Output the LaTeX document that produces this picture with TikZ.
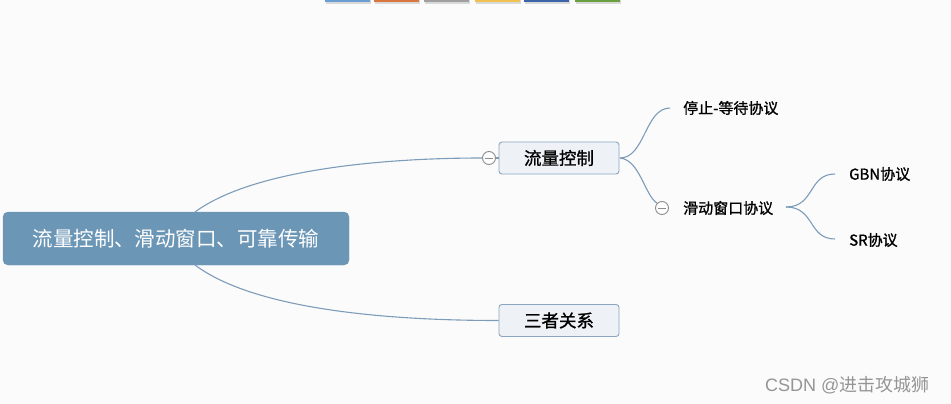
\documentclass[tikz,border=0pt]{standalone}
\usepackage{fontspec}
\setmainfont{Noto Sans CJK SC}
\newfontfamily\medfont[FakeBold=1.2]{Noto Sans CJK SC}
\newfontfamily\wmfont{Liberation Sans}
\definecolor{bg}{HTML}{FBFBFB}
\definecolor{rootfill}{HTML}{6C96B6}
\definecolor{boxfill}{HTML}{EEF2F6}
\definecolor{boxline}{HTML}{8AA6C0}
\definecolor{linkc}{HTML}{7D9CBA}
\definecolor{tabA}{HTML}{6A9FD4}
\definecolor{tabB}{HTML}{D9773F}
\definecolor{tabC}{HTML}{A0A0A0}
\definecolor{tabD}{HTML}{F0C050}
\definecolor{tabE}{HTML}{3C64A8}
\definecolor{tabF}{HTML}{6AA040}
\definecolor{wm}{HTML}{959595}
\tikzset{
  rootbox/.style={draw=rootfill, fill=rootfill, rounded corners=5pt, minimum width=346pt, minimum height=53pt, text=white, font=\fontsize{20.5}{24}\selectfont, inner sep=0pt},
  topicbox/.style={draw=boxline, fill=boxfill, rounded corners=3pt, line width=0.9pt, minimum width=120pt, minimum height=32pt, font=\medfont\fontsize{17.5}{20}\selectfont, inner sep=0pt},
  subtopic/.style={anchor=west, font=\medfont\fontsize{15}{18}\selectfont, inner sep=0pt},
  link/.style={draw=linkc, line width=1.1pt},
  collapse/.style={circle, draw=gray!90, fill=white, line width=0.9pt, minimum size=13pt, inner sep=0pt},
}
\begin{document}
\begin{tikzpicture}[x=1pt,y=-1pt]
\fill[bg] (0,0) rectangle (951,404);
\useasboundingbox (0,0) rectangle (951,404);
% top tabs
\foreach \x/\c in {325/tabA,374/tabB,424/tabC,475/tabD,524/tabE,575/tabF}{
  \fill[black!15] (\x+1,0) rectangle (\x+46,4);
  \fill[\c] (\x,0) rectangle (\x+45,2.5);
}
% nodes
\node[rootbox] (root) at (176,238.5) {流量控制、滑动窗口、可靠传输};
\node[topicbox] (flow) at (559,158) {流量控制};
\node[topicbox] (three) at (559,320.5) {三者关系};
\node[collapse] (c1) at (489,158) {};
\node[subtopic] (stop) at (683,108) {停止-等待协议};
\node[collapse] (c2) at (662,208) {};
\node[subtopic] (slide) at (683,208) {滑动窗口协议};
\node[subtopic] (gbn) at (849,174) {GBN协议};
\node[subtopic] (sr) at (849,240) {SR协议};
\coordinate (rt) at (195,212);
\coordinate (rb) at (195,265);
\coordinate (fr) at (620,158);
\coordinate (se) at (786,207);
\coordinate (st) at (670,108);
\coordinate (gt) at (835,174);
\coordinate (sb) at (835,239);
% links
\draw[link] (rt) .. controls (255,168) and (390,158) .. (c1.west);
\draw[link] (c1.east) -- (flow.west);
\draw[link] (rb) .. controls (255,310) and (390,320.5) .. (three.west);
\draw[link] (fr) .. controls (645,158) and (645,108) .. (st);
\draw[link] (fr) .. controls (640,160) and (645,196) .. (c2.north west);
\draw[link] (se) .. controls (815,207) and (808,174) .. (gt);
\draw[link] (se) .. controls (815,207) and (808,239) .. (sb);
% collapse icon bars
\foreach \n in {c1,c2}{
  \draw[gray!90, line width=0.9pt] ([xshift=-4pt]\n.center) -- ([xshift=4pt]\n.center);
}
% watermark
\node[anchor=west, text=wm, inner sep=0pt, font=\fontsize{18}{20}\selectfont] (wmk) at (765,385) {\wmfont CSDN @\normalfont 进击攻城狮};
\end{tikzpicture}
\end{document}
